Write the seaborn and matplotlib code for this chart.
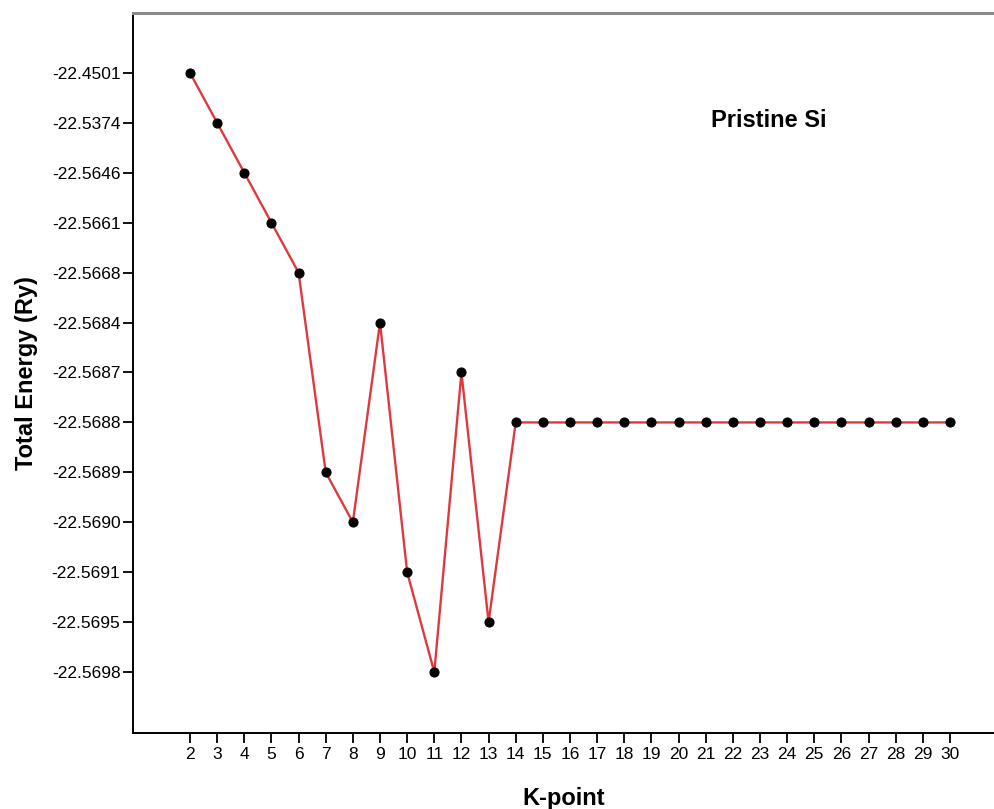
import numpy as np
import pandas as pd
import matplotlib
matplotlib.use("Agg")
import matplotlib.pyplot as plt
import seaborn as sns

# ---- data ----
kpoints = list(range(2, 31))
energy = [-22.4501, -22.5374, -22.5646, -22.5661, -22.5668, -22.5689, -22.5690,
          -22.5684, -22.5691, -22.5698, -22.5687, -22.5695,
          -22.5688, -22.5688, -22.5688, -22.5688, -22.5688, -22.5688, -22.5688,
          -22.5688, -22.5688, -22.5688, -22.5688, -22.5688, -22.5688, -22.5688,
          -22.5688, -22.5688, -22.5688]
y_labels = ["-22.4501", "-22.5374", "-22.5646", "-22.5661", "-22.5668", "-22.5684",
            "-22.5687", "-22.5688", "-22.5689", "-22.5690", "-22.5691", "-22.5695",
            "-22.5698"]
x_labels = [str(k) for k in kpoints]

# categorical y axis: position = rank of value among the labels
label_vals = [float(s) for s in y_labels]
ypos = [label_vals.index(v) for v in energy]
df = pd.DataFrame({"K-point": kpoints, "pos": ypos})

sns.set_style("white")
plt.rcParams["font.family"] = ["Liberation Sans", "DejaVu Sans"]
plt.rcParams["text.color"] = "black"
plt.rcParams["axes.labelcolor"] = "black"
plt.rcParams["xtick.color"] = "black"
plt.rcParams["ytick.color"] = "black"

fig = plt.figure(figsize=(9.94, 8.09), dpi=100)
ax = fig.add_axes([0.1338, 0.0939, 0.8662, 0.8901])

sns.lineplot(data=df, x="K-point", y="pos", ax=ax, color="#dc3a3e", linewidth=1.7,
             marker="o", markersize=6.5, markerfacecolor="black",
             markeredgecolor="black", markeredgewidth=0.8)

ax.set_xlim(-0.1, 31.62)
ax.set_ylim(13.22, -1.2)
ax.set_xticks(kpoints)
ax.set_xticklabels(x_labels)
ax.set_yticks(range(len(y_labels)))
ax.set_yticklabels(y_labels)
ax.tick_params(axis="both", direction="out", length=7, width=1.3, color="black",
               labelsize=12.5, pad=2, left=True, bottom=True, labelcolor="black")
ax.tick_params(axis="x", pad=3)

for side in ["left", "bottom"]:
    ax.spines[side].set_color("black")
    ax.spines[side].set_linewidth(1.4)
ax.spines["top"].set_color("#8a8a8a")
ax.spines["top"].set_linewidth(2.2)
ax.spines["right"].set_visible(False)

ax.set_xlabel("K-point", fontsize=17, fontweight="bold", labelpad=18, color="black")
ax.set_ylabel("Total Energy (Ry)", fontsize=17, fontweight="bold", labelpad=10, color="black")

ax.text(0.671, 0.851, "Pristine Si", transform=ax.transAxes, fontsize=17,
        fontweight="bold", ha="left", va="center", color="black")

fig.savefig("out.png", dpi=100)
